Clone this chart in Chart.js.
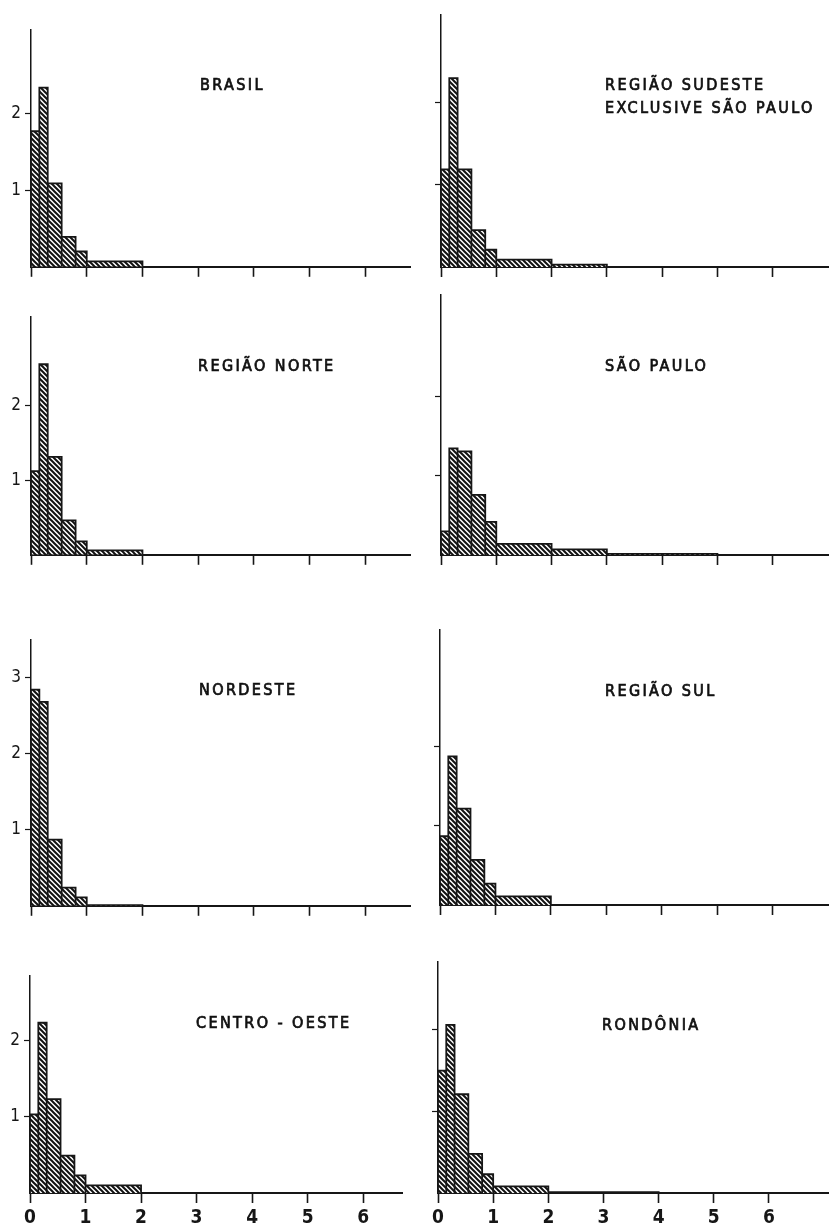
<!DOCTYPE html>
<html>
<head>
<meta charset="utf-8">
<script src="https://cdn.jsdelivr.net/npm/chart.js@4.4.1/dist/chart.umd.min.js"></script>
<style>
  html, body { margin:0; padding:0; background:#fff; }
  body { width:830px; height:1230px; position:relative; overflow:hidden; }
  .panel { position:absolute; }
  .title { position:absolute; font-family:"DejaVu Sans Condensed", "DejaVu Sans", sans-serif; font-size:16px; font-weight:normal;
           letter-spacing:2.4px; color:#111; line-height:23px; white-space:nowrap;
           -webkit-text-stroke:0.7px #111; }
</style>
</head>
<body>
<script>
// ---------------- DATA ----------------
const binEdges = [0, 0.15, 0.3, 0.55, 0.8, 1, 2, 3, 4, 5];
const xTickValues = [0, 1, 2, 3, 4, 5, 6];
const xTickLabels = ['0', '1', '2', '3', '4', '5', '6'];

const titleBrasil = ['BRASIL'];
const titleSudeste = ['REGIÃO  SUDESTE', 'EXCLUSIVE SÃO PAULO'];
const titleNorte = ['REGIÃO  NORTE'];
const titleSaoPaulo = ['SÃO  PAULO'];
const titleNordeste = ['NORDESTE'];
const titleSul = ['REGIÃO  SUL'];
const titleCentroOeste = ['CENTRO - OESTE'];
const titleRondonia = ['RONDÔNIA'];

const heightsBrasil      = [1.77, 2.34, 1.09, 0.39, 0.20, 0.07, 0,     0,     0];
const heightsSudeste     = [1.19, 2.30, 1.19, 0.45, 0.21, 0.09, 0.03,  0,     0];
const heightsNorte       = [1.12, 2.55, 1.31, 0.46, 0.18, 0.06, 0,     0,     0];
const heightsSaoPaulo    = [0.30, 1.35, 1.31, 0.76, 0.42, 0.14, 0.07,  0.015, 0.015];
const heightsNordeste    = [2.84, 2.68, 0.87, 0.24, 0.11, 0.01, 0,     0,     0];
const heightsSul         = [0.87, 1.88, 1.22, 0.57, 0.27, 0.11, 0,     0,     0];
const heightsCentroOeste = [1.03, 2.23, 1.23, 0.49, 0.23, 0.10, 0,     0,     0];
const heightsRondonia    = [1.50, 2.06, 1.21, 0.48, 0.23, 0.08, 0.01,  0.01,  0];

const yTicksTwo = [1, 2];
const yTicksThree = [1, 2, 3];

// ---------------- LAYOUT (pixels / styles) ----------------
const panels = [
  {title: titleBrasil,      h: heightsBrasil,      yt: yTicksTwo,   ox: 31,  ay: 267,  top: 20,  right: 410, ymax: 3.09, xmax: 6.8,  left: true,  bottom: false, tx: 200, ty: 73},
  {title: titleSudeste,     h: heightsSudeste,     yt: yTicksTwo,   ox: 441, ay: 267,  top: 15,  right: 828, ymax: 3.07, xmax: 7.0,  left: false, bottom: false, tx: 605, ty: 73},
  {title: titleNorte,       h: heightsNorte,       yt: yTicksTwo,   ox: 31,  ay: 555,  top: 307, right: 410, ymax: 3.18, xmax: 6.8,  left: true,  bottom: false, tx: 198, ty: 354},
  {title: titleSaoPaulo,    h: heightsSaoPaulo,    yt: yTicksTwo,   ox: 441, ay: 555,  top: 295, right: 828, ymax: 3.29, xmax: 7.0,  left: false, bottom: false, tx: 605, ty: 354},
  {title: titleNordeste,    h: heightsNordeste,    yt: yTicksThree, ox: 31,  ay: 906,  top: 630, right: 410, ymax: 3.49, xmax: 6.8,  left: true,  bottom: false, tx: 199, ty: 678},
  {title: titleSul,         h: heightsSul,         yt: yTicksTwo,   ox: 440, ay: 905,  top: 630, right: 828, ymax: 3.48, xmax: 7.0,  left: false, bottom: false, tx: 605, ty: 679},
  {title: titleCentroOeste, h: heightsCentroOeste, yt: yTicksTwo,   ox: 30,  ay: 1193, top: 966, right: 402, ymax: 2.84, xmax: 6.7,  left: true,  bottom: true,  tx: 196, ty: 1011},
  {title: titleRondonia,    h: heightsRondonia,    yt: yTicksTwo,   ox: 438, ay: 1193, top: 962, right: 828, ymax: 2.83, xmax: 7.07, left: false, bottom: true,  tx: 602, ty: 1013}
];

const YW = 32, PT = 4, PR = 2;
const INK = '#161616';

function makeHatch() {
  const s = 5;
  const c = document.createElement('canvas');
  c.width = s; c.height = s;
  const g = c.getContext('2d');
  g.fillStyle = '#fff'; g.fillRect(0, 0, s, s);
  g.strokeStyle = '#111'; g.lineWidth = 2;
  g.beginPath();
  g.moveTo(0, 0); g.lineTo(s, s);
  g.moveTo(-1, s - 1); g.lineTo(1, s + 1);
  g.moveTo(s - 1, -1); g.lineTo(s + 1, 1);
  g.stroke();
  return g.createPattern(c, 'repeat');
}
const hatch = makeHatch();

// histogram outline built from bin edges and heights
function histPoints(heights) {
  const pts = [];
  for (let i = 0; i < heights.length; i++) {
    const x0 = binEdges[i], x1 = binEdges[i + 1];
    pts.push({x: x0, y: 0}, {x: x0, y: heights[i]}, {x: x1, y: heights[i]}, {x: x1, y: 0});
  }
  return pts;
}

panels.forEach((p) => {
  const XH = p.bottom ? 42 : 14;
  const wrap = document.createElement('div');
  wrap.className = 'panel';
  const W = (p.right - p.ox) + YW + PR;
  const H = (p.ay - p.top) + PT + XH;
  wrap.style.left = (p.ox - YW) + 'px';
  wrap.style.top = (p.top - PT) + 'px';
  wrap.style.width = W + 'px';
  wrap.style.height = H + 'px';
  const cv = document.createElement('canvas');
  cv.width = W; cv.height = H;
  cv.style.width = W + 'px'; cv.style.height = H + 'px';
  wrap.appendChild(cv);
  document.body.appendChild(wrap);

  const t = document.createElement('div');
  t.className = 'title';
  t.style.left = p.tx + 'px';
  t.style.top = p.ty + 'px';
  t.innerHTML = p.title.join('<br>');
  document.body.appendChild(t);

  new Chart(cv, {
    type: 'scatter',
    data: {
      datasets: [{
        data: histPoints(p.h),
        showLine: true,
        fill: 'origin',
        backgroundColor: hatch,
        borderColor: INK,
        borderWidth: 1.8,
        pointRadius: 0,
        tension: 0
      }]
    },
    options: {
      responsive: false,
      animation: false,
      layout: {padding: {top: PT, right: PR, left: 0, bottom: 0}},
      plugins: {legend: {display: false}, tooltip: {enabled: false}},
      scales: {
        x: {
          type: 'linear', min: 0, max: p.xmax,
          afterBuildTicks: (s) => { s.ticks = xTickValues.map(v => ({value: v})); },
          afterFit: (s) => { s.height = XH; },
          grid: {display: true, drawOnChartArea: false, drawTicks: true, tickLength: 10, tickWidth: 1.6, tickColor: INK},
          border: {display: true, color: INK, width: 2},
          ticks: {
            display: p.bottom, padding: 4, color: INK, autoSkip: false, maxRotation: 0,
            font: {family: '"DejaVu Sans Condensed", "DejaVu Sans", sans-serif', size: 19, weight: 'bold'},
            callback: (v) => { const i = xTickValues.indexOf(v); return i >= 0 ? xTickLabels[i] : ''; }
          }
        },
        y: {
          type: 'linear', min: 0, max: p.ymax,
          afterBuildTicks: (s) => { s.ticks = p.yt.map(v => ({value: v})); },
          afterFit: (s) => { s.width = YW; },
          grid: {display: true, drawOnChartArea: false, drawTicks: true, tickLength: 6, tickWidth: 1.2, tickColor: INK},
          border: {display: true, color: INK, width: 1.5},
          ticks: {
            display: p.left, padding: 4, color: INK,
            font: {family: '"DejaVu Sans Condensed", "DejaVu Sans", sans-serif', size: 17},
            callback: (v) => String(v)
          }
        }
      }
    }
  });
});
</script>
</body>
</html>
